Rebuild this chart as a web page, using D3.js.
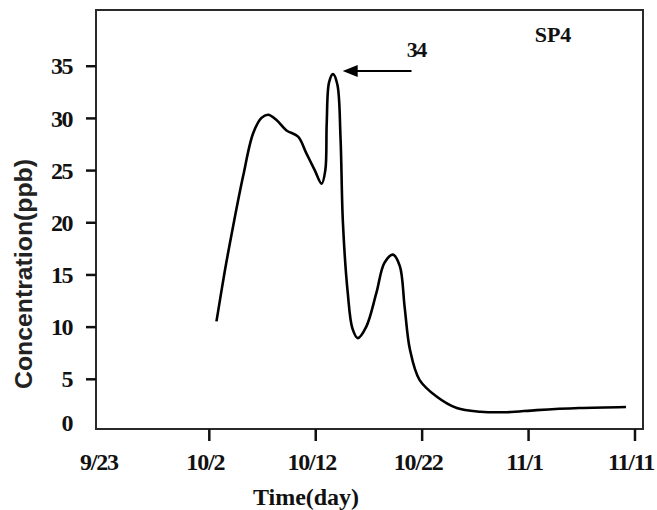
<!DOCTYPE html>
<html>
<head>
<meta charset="utf-8">
<script src="https://cdn.jsdelivr.net/npm/d3@7/dist/d3.min.js"></script>
<style>
  html, body { margin: 0; padding: 0; background: #fff; }
  svg { display: block; }
</style>
</head>
<body>
<svg id="chart" width="657" height="510"></svg>
<script>
// ---- data (day offset from 10/2, concentration ppb) ----
const days   = [0.72, 1.5, 2.28, 3.22, 4.16, 4.95, 5.57, 6.36, 7.3, 8.39, 9.17, 9.95, 10.6, 10.95, 11.08, 11.3, 11.67, 12.08, 12.38, 12.6, 13.05, 13.5, 14.0, 14.8, 15.74, 16.5, 17.3, 17.95, 18.4, 18.9, 19.8, 21.4, 23.3, 25.5, 28.0, 30.8, 34.8, 39.2];
const values = [10.5, 15.3, 19.6, 24.4, 28.5, 30.0, 30.3, 29.8, 28.8, 28.2, 26.6, 25.0, 23.7, 25.0, 29.5, 33.4, 34.2, 33.2, 28.0, 20.0, 13.3, 9.8, 8.9, 10.0, 13.2, 16.1, 16.9, 15.8, 11.9, 7.8, 4.9, 3.3, 2.2, 1.85, 1.8, 2.0, 2.2, 2.3];
const xTickDays   = [-10, 0, 10, 20, 30, 40];
const xTickLabels = ["9/23", "10/2", "10/12", "10/22", "11/1", "11/11"];
const yTickValues = [0, 5, 10, 15, 20, 25, 30, 35];
const peakLabel = "34";
const seriesName = "SP4";

const svg = d3.select("#chart");
const L = 96, R = 643, T = 10, B = 429;

const x = d3.scaleLinear().domain([-10.6, 40.8]).range([L, R]);
const y = d3.scaleLinear().domain([0.19, 40.34]).range([B, T]);

const serif = "'Liberation Serif', 'Times New Roman', serif";

// frame
svg.append("rect")
  .attr("x", L).attr("y", T).attr("width", R - L).attr("height", B - T)
  .attr("fill", "none").attr("stroke", "#2a2a2a").attr("stroke-width", 2);

// x axis
const xAxis = d3.axisBottom(x)
  .tickValues(xTickDays)
  .tickFormat((d, i) => xTickLabels[i])
  .tickSize(12).tickPadding(0);
const gx = svg.append("g").attr("transform", `translate(0,${B})`).call(xAxis);
gx.select(".domain").remove();
gx.selectAll(".tick line").attr("stroke", "#111").attr("stroke-width", 2.5)
  .attr("opacity", (d, i) => i === 0 ? 0 : 1);
gx.selectAll(".tick text")
  .attr("y", 41).attr("dy", "0").attr("dx", -4)
  .attr("fill", "#111")
  .style("font-family", serif)
  .style("font-weight", "bold").style("font-size", "24px")
  .style("letter-spacing", "-1.2px");

// y axis
const yAxis = d3.axisLeft(y)
  .tickValues(yTickValues)
  .tickFormat(d3.format("d"))
  .tickSize(10).tickPadding(14);
const gy = svg.append("g").attr("transform", `translate(${L},0)`).call(yAxis);
gy.select(".domain").remove();
gy.selectAll(".tick line").attr("stroke", "#111").attr("stroke-width", 2.5)
  .attr("opacity", d => d === 0 ? 0 : 1);
gy.selectAll(".tick text")
  .attr("fill", "#111")
  .attr("dy", d => d === 0 ? "-0.02em" : "0.34em")
  .style("font-family", serif)
  .style("font-weight", "bold").style("font-size", "24px")
  .style("letter-spacing", "-1.5px");

// line
const pts = days.map((d, i) => [d, values[i]]);
const line = d3.line()
  .x(d => x(d[0])).y(d => y(d[1]))
  .curve(d3.curveCatmullRom.alpha(0.5));
svg.append("path")
  .datum(pts)
  .attr("d", line)
  .attr("fill", "none")
  .attr("stroke", "#000")
  .attr("stroke-width", 2.6)
  .attr("stroke-linejoin", "round");

// arrow annotation
const arrowY = y(34.5);
const ax0 = x(19.05), ax1 = x(12.58);
svg.append("line")
  .attr("x1", ax0).attr("y1", arrowY).attr("x2", ax1 + 12).attr("y2", arrowY)
  .attr("stroke", "#000").attr("stroke-width", 2);
svg.append("path")
  .attr("d", `M${ax1},${arrowY} L${ax1 + 15},${arrowY - 6} L${ax1 + 15},${arrowY + 6} Z`)
  .attr("fill", "#000");
svg.append("text")
  .attr("x", x(19.5)).attr("y", y(35.8))
  .attr("text-anchor", "middle")
  .attr("fill", "#111")
  .style("font-family", serif)
  .style("font-weight", "bold").style("font-size", "22px")
  .style("letter-spacing", "-1.5px")
  .text(peakLabel);

svg.append("text")
  .attr("x", 553).attr("y", 42)
  .attr("text-anchor", "middle")
  .attr("fill", "#111")
  .style("font-family", serif)
  .style("font-weight", "bold").style("font-size", "22px")
  .text(seriesName);

// axis titles
svg.append("text")
  .attr("x", 306).attr("y", 505)
  .attr("text-anchor", "middle")
  .attr("fill", "#111")
  .style("font-family", serif)
  .style("font-weight", "bold").style("font-size", "24px")
  .text("Time(day)");

svg.append("text")
  .attr("transform", "translate(32,274) rotate(-90)")
  .attr("text-anchor", "middle")
  .attr("fill", "#222")
  .attr("textLength", 230).attr("lengthAdjust", "spacingAndGlyphs")
  .style("font-family", "'Liberation Sans', Arial, sans-serif")
  .style("font-weight", "bold").style("font-size", "23px")
  .text("Concentration(ppb)");
</script>
</body>
</html>
